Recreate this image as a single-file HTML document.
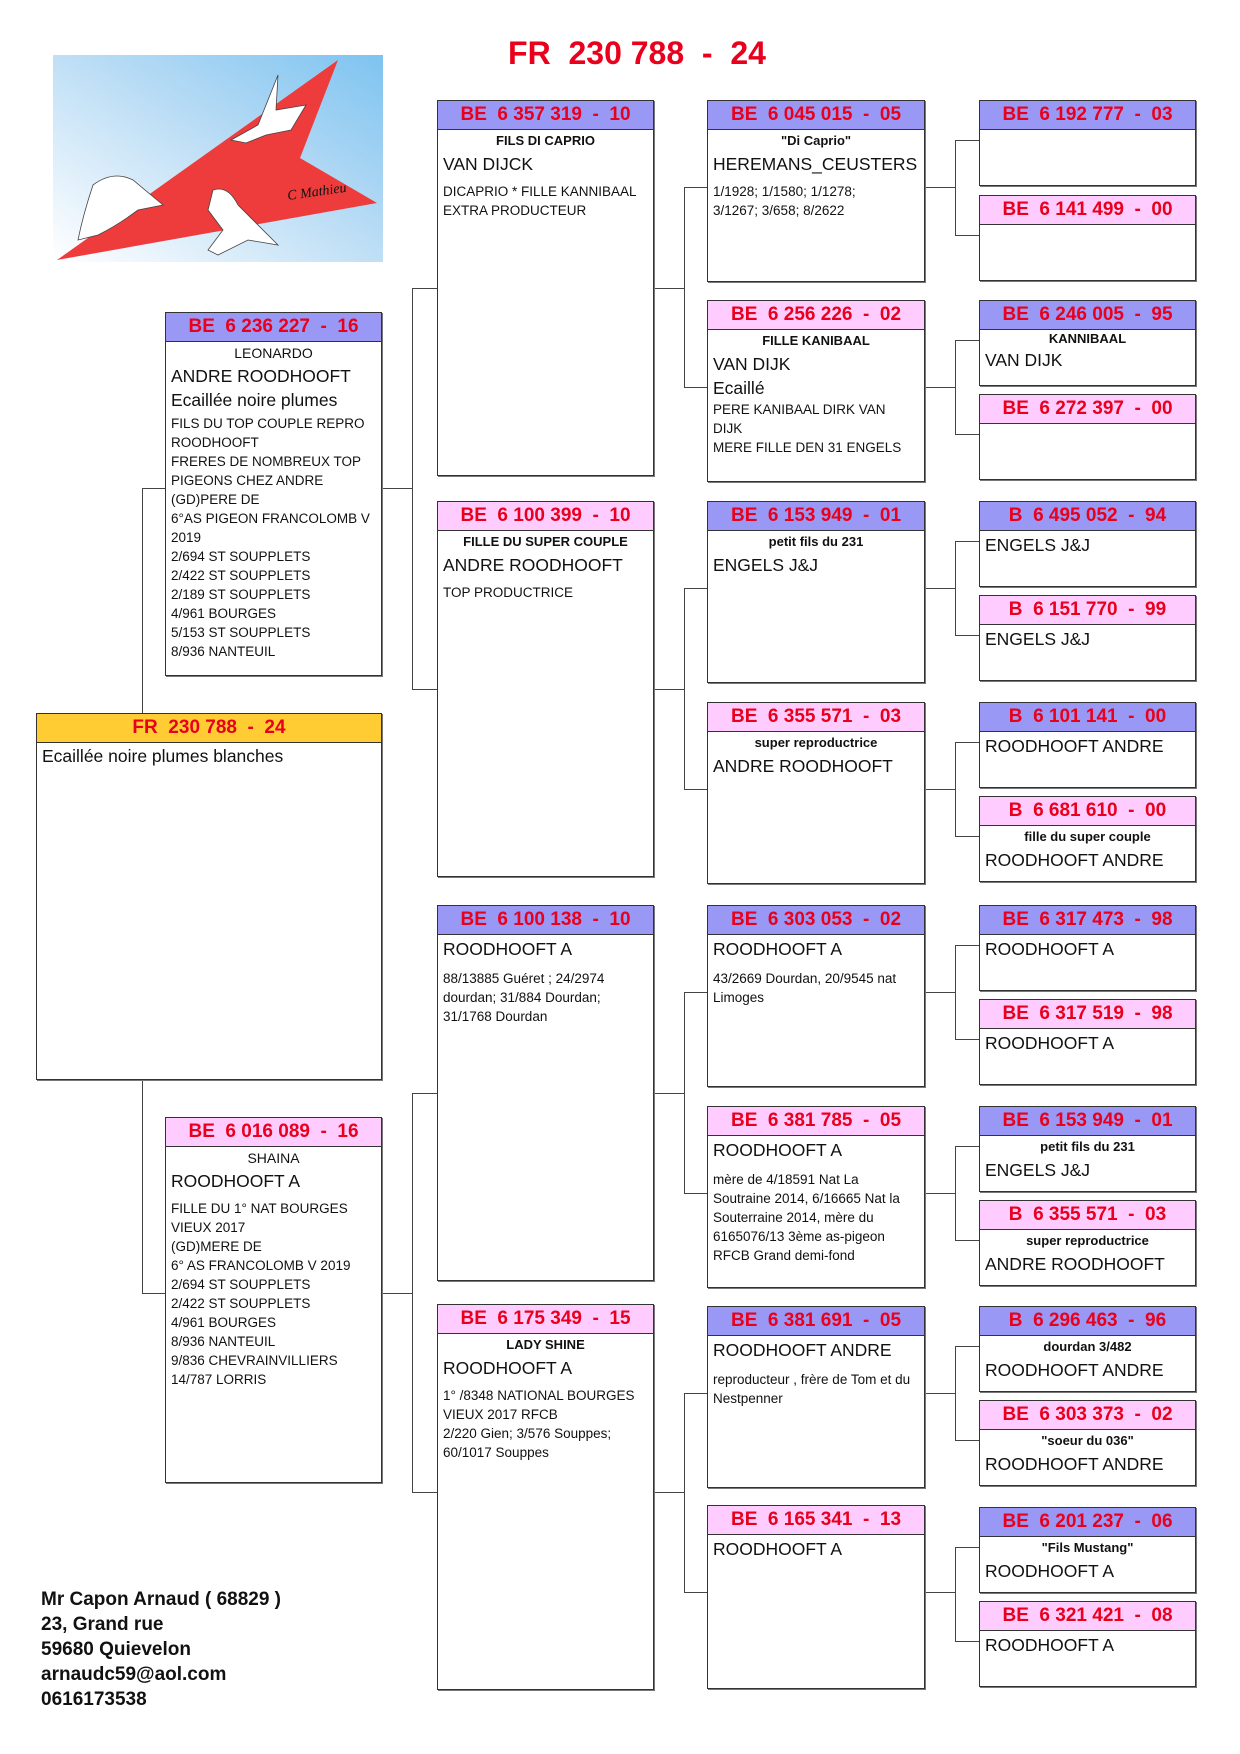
<!DOCTYPE html>
<html><head><meta charset="utf-8">
<style>
body{margin:0;background:#fff;}
#pg{position:relative;width:1240px;height:1754px;overflow:hidden;font-family:"Liberation Sans",Arial,sans-serif;color:#111;}
.b{position:absolute;border:1px solid #333;box-shadow:1px 1px 0 #777;background:#fff;box-sizing:border-box;}
.h{height:28px;border-bottom:1px solid #333;color:#e8001c;font-weight:bold;font-size:19px;line-height:28px;text-align:center;white-space:pre;}
.m{background:#9999f5;}
.f{background:#ffccff;}
.y{background:#ffcc33;}
.bd{padding:0 5px;}
.c{font-weight:bold;font-size:13px;line-height:22px;text-align:center;}
.n{font-size:17.5px;line-height:24px;white-space:nowrap;}
.s{font-size:13.5px;line-height:19px;}
.sp{height:6px;}
.l{position:absolute;background:#444;}
.t{position:absolute;font-weight:bold;}
</style></head><body><div id="pg">

<svg style="position:absolute;left:53px;top:55px" width="330" height="207" viewBox="0 0 330 207">
<defs><linearGradient id="g" x1="0" y1="1" x2="1" y2="0"><stop offset="0" stop-color="#ffffff"/><stop offset="0.55" stop-color="#b9dcf5"/><stop offset="1" stop-color="#7ec3f0"/></linearGradient></defs>
<rect width="330" height="207" fill="url(#g)"/>
<polygon points="4,205 285,5 247,103 324,148" fill="#ee3b3b"/>
<g fill="#fff" stroke="#444" stroke-width="0.8">
<path d="M205 70 l20 -50 l-2 35 l30 -5 l-15 25 l-25 5 l-20 8 l-15 -3 z"/>
<path d="M40 130 q20 -15 40 -5 l30 25 l-25 5 q-20 15 -40 25 l-20 5 q5 -25 15 -55 z"/>
<path d="M160 135 q15 -5 25 15 l40 40 l-30 -5 l-30 15 l-10 -5 l15 -20 l-15 -20 z"/>
</g>
<text x="235" y="145" font-size="14" font-style="italic" fill="#111" font-family="Liberation Serif,serif" transform="rotate(-8 235 145)">C Mathieu</text>
</svg>

<div class="t" style="left:432px;top:35px;width:410px;text-align:center;color:#e8001c;font-size:32px;white-space:pre">FR  230 788  -  24</div>

<!-- connectors -->
<div class="l" style="left:142px;top:488px;width:23px;height:1px"></div>
<div class="l" style="left:142px;top:488px;width:1px;height:225px"></div>
<div class="l" style="left:142px;top:1080px;width:1px;height:214px"></div>
<div class="l" style="left:142px;top:1293px;width:23px;height:1px"></div>

<div class="l" style="left:382px;top:488px;width:30px;height:1px"></div>
<div class="l" style="left:412px;top:288px;width:1px;height:402px"></div>
<div class="l" style="left:412px;top:288px;width:25px;height:1px"></div>
<div class="l" style="left:412px;top:689px;width:25px;height:1px"></div>
<div class="l" style="left:382px;top:1293px;width:30px;height:1px"></div>
<div class="l" style="left:412px;top:1093px;width:1px;height:400px"></div>
<div class="l" style="left:412px;top:1093px;width:25px;height:1px"></div>
<div class="l" style="left:412px;top:1492px;width:25px;height:1px"></div>

<!-- col2->col3 -->
<div class="l" style="left:654px;top:288px;width:30px;height:1px"></div>
<div class="l" style="left:684px;top:187px;width:1px;height:201px"></div>
<div class="l" style="left:684px;top:187px;width:23px;height:1px"></div>
<div class="l" style="left:684px;top:387px;width:23px;height:1px"></div>
<div class="l" style="left:654px;top:689px;width:30px;height:1px"></div>
<div class="l" style="left:684px;top:588px;width:1px;height:202px"></div>
<div class="l" style="left:684px;top:588px;width:23px;height:1px"></div>
<div class="l" style="left:684px;top:789px;width:23px;height:1px"></div>
<div class="l" style="left:654px;top:1093px;width:30px;height:1px"></div>
<div class="l" style="left:684px;top:992px;width:1px;height:202px"></div>
<div class="l" style="left:684px;top:992px;width:23px;height:1px"></div>
<div class="l" style="left:684px;top:1193px;width:23px;height:1px"></div>
<div class="l" style="left:654px;top:1492px;width:30px;height:1px"></div>
<div class="l" style="left:684px;top:1393px;width:1px;height:200px"></div>
<div class="l" style="left:684px;top:1393px;width:23px;height:1px"></div>
<div class="l" style="left:684px;top:1592px;width:23px;height:1px"></div>

<!-- col3->col4 -->
<div class="l" style="left:925px;top:187px;width:30px;height:1px"></div>
<div class="l" style="left:955px;top:140px;width:1px;height:96px"></div>
<div class="l" style="left:955px;top:140px;width:24px;height:1px"></div>
<div class="l" style="left:955px;top:235px;width:24px;height:1px"></div>
<div class="l" style="left:925px;top:387px;width:30px;height:1px"></div>
<div class="l" style="left:955px;top:340px;width:1px;height:95px"></div>
<div class="l" style="left:955px;top:340px;width:24px;height:1px"></div>
<div class="l" style="left:955px;top:434px;width:24px;height:1px"></div>
<div class="l" style="left:925px;top:588px;width:30px;height:1px"></div>
<div class="l" style="left:955px;top:541px;width:1px;height:95px"></div>
<div class="l" style="left:955px;top:541px;width:24px;height:1px"></div>
<div class="l" style="left:955px;top:635px;width:24px;height:1px"></div>
<div class="l" style="left:925px;top:789px;width:30px;height:1px"></div>
<div class="l" style="left:955px;top:742px;width:1px;height:95px"></div>
<div class="l" style="left:955px;top:742px;width:24px;height:1px"></div>
<div class="l" style="left:955px;top:836px;width:24px;height:1px"></div>
<div class="l" style="left:925px;top:992px;width:30px;height:1px"></div>
<div class="l" style="left:955px;top:945px;width:1px;height:95px"></div>
<div class="l" style="left:955px;top:945px;width:24px;height:1px"></div>
<div class="l" style="left:955px;top:1039px;width:24px;height:1px"></div>
<div class="l" style="left:925px;top:1193px;width:30px;height:1px"></div>
<div class="l" style="left:955px;top:1146px;width:1px;height:95px"></div>
<div class="l" style="left:955px;top:1146px;width:24px;height:1px"></div>
<div class="l" style="left:955px;top:1240px;width:24px;height:1px"></div>
<div class="l" style="left:925px;top:1393px;width:30px;height:1px"></div>
<div class="l" style="left:955px;top:1346px;width:1px;height:95px"></div>
<div class="l" style="left:955px;top:1346px;width:24px;height:1px"></div>
<div class="l" style="left:955px;top:1440px;width:24px;height:1px"></div>
<div class="l" style="left:925px;top:1592px;width:30px;height:1px"></div>
<div class="l" style="left:955px;top:1547px;width:1px;height:95px"></div>
<div class="l" style="left:955px;top:1547px;width:24px;height:1px"></div>
<div class="l" style="left:955px;top:1641px;width:24px;height:1px"></div>

<!-- subject -->
<div class="b" style="left:36px;top:713px;width:346px;height:367px"><div class="h y">FR  230 788  -  24</div><div class="bd"><div class="n" style="line-height:26px">Ecaillée noire plumes blanches</div></div></div>

<!-- col1 -->
<div class="b" style="left:165px;top:312px;width:217px;height:364px"><div class="h m">BE  6 236 227  -  16</div><div class="bd"><div class="c" style="font-weight:normal;font-size:14px">LEONARDO</div><div class="n">ANDRE ROODHOOFT</div><div class="n">Ecaillée noire plumes</div><div class="s" style="margin-top:2px">FILS DU TOP COUPLE REPRO ROODHOOFT<br>FRERES DE NOMBREUX TOP PIGEONS CHEZ ANDRE<br>(GD)PERE DE<br>6°AS PIGEON FRANCOLOMB V 2019<br>2/694 ST SOUPPLETS<br>2/422 ST SOUPPLETS<br>2/189 ST SOUPPLETS<br>4/961 BOURGES<br>5/153 ST SOUPPLETS<br>8/936 NANTEUIL</div></div></div>
<div class="b" style="left:165px;top:1117px;width:217px;height:366px"><div class="h f">BE  6 016 089  -  16</div><div class="bd"><div class="c" style="font-weight:normal;font-size:14px">SHAINA</div><div class="n">ROODHOOFT A</div><div class="sp"></div><div class="s">FILLE DU 1° NAT BOURGES VIEUX 2017<br>(GD)MERE DE<br>6° AS FRANCOLOMB V 2019<br>2/694 ST SOUPPLETS<br>2/422 ST SOUPPLETS<br>4/961 BOURGES<br>8/936 NANTEUIL<br>9/836 CHEVRAINVILLIERS<br>14/787 LORRIS</div></div></div>

<!-- col2 -->
<div class="b" style="left:437px;top:100px;width:217px;height:376px"><div class="h m">BE  6 357 319  -  10</div><div class="bd"><div class="c">FILS DI CAPRIO</div><div class="n">VAN DIJCK</div><div class="sp"></div><div class="s">DICAPRIO * FILLE KANNIBAAL EXTRA PRODUCTEUR</div></div></div>
<div class="b" style="left:437px;top:501px;width:217px;height:376px"><div class="h f">BE  6 100 399  -  10</div><div class="bd"><div class="c">FILLE DU SUPER COUPLE</div><div class="n">ANDRE ROODHOOFT</div><div class="sp"></div><div class="s">TOP PRODUCTRICE</div></div></div>
<div class="b" style="left:437px;top:905px;width:217px;height:376px"><div class="h m">BE  6 100 138  -  10</div><div class="bd"><div class="n" style="line-height:28px">ROODHOOFT A</div><div class="sp"></div><div class="s">88/13885 Guéret ; 24/2974 dourdan; 31/884 Dourdan; 31/1768 Dourdan</div></div></div>
<div class="b" style="left:437px;top:1304px;width:217px;height:386px"><div class="h f">BE  6 175 349  -  15</div><div class="bd"><div class="c">LADY SHINE</div><div class="n">ROODHOOFT A</div><div class="sp"></div><div class="s">1° /8348 NATIONAL BOURGES VIEUX 2017 RFCB<br>2/220 Gien; 3/576 Souppes; 60/1017 Souppes</div></div></div>

<!-- col3 -->
<div class="b" style="left:707px;top:100px;width:218px;height:182px"><div class="h m">BE  6 045 015  -  05</div><div class="bd"><div class="c">"Di Caprio"</div><div class="n">HEREMANS_CEUSTERS</div><div class="sp"></div><div class="s">1/1928; 1/1580; 1/1278;<br>3/1267; 3/658; 8/2622</div></div></div>
<div class="b" style="left:707px;top:300px;width:218px;height:182px"><div class="h f">BE  6 256 226  -  02</div><div class="bd"><div class="c">FILLE KANIBAAL</div><div class="n">VAN DIJK</div><div class="n">Ecaillé</div><div class="s">PERE KANIBAAL DIRK VAN<br>DIJK<br>MERE FILLE DEN 31 ENGELS</div></div></div>
<div class="b" style="left:707px;top:501px;width:218px;height:182px"><div class="h m">BE  6 153 949  -  01</div><div class="bd"><div class="c">petit fils du 231</div><div class="n">ENGELS J&amp;J</div></div></div>
<div class="b" style="left:707px;top:702px;width:218px;height:182px"><div class="h f">BE  6 355 571  -  03</div><div class="bd"><div class="c">super reproductrice</div><div class="n">ANDRE ROODHOOFT</div></div></div>
<div class="b" style="left:707px;top:905px;width:218px;height:182px"><div class="h m">BE  6 303 053  -  02</div><div class="bd"><div class="n" style="line-height:28px">ROODHOOFT A</div><div class="sp"></div><div class="s">43/2669 Dourdan, 20/9545 nat Limoges</div></div></div>
<div class="b" style="left:707px;top:1106px;width:218px;height:182px"><div class="h f">BE  6 381 785  -  05</div><div class="bd"><div class="n" style="line-height:28px">ROODHOOFT A</div><div class="sp"></div><div class="s">mère de 4/18591 Nat La<br>Soutraine 2014, 6/16665 Nat la Souterraine 2014, mère du 6165076/13 3ème as-pigeon RFCB Grand demi-fond</div></div></div>
<div class="b" style="left:707px;top:1306px;width:218px;height:182px"><div class="h m">BE  6 381 691  -  05</div><div class="bd"><div class="n" style="line-height:28px">ROODHOOFT ANDRE</div><div class="sp"></div><div class="s">reproducteur , frère de Tom et du Nestpenner</div></div></div>
<div class="b" style="left:707px;top:1505px;width:218px;height:184px"><div class="h f">BE  6 165 341  -  13</div><div class="bd"><div class="n" style="line-height:28px">ROODHOOFT A</div></div></div>

<!-- col4 -->
<div class="b" style="left:979px;top:100px;width:217px;height:86px"><div class="h m">BE  6 192 777  -  03</div></div>
<div class="b" style="left:979px;top:195px;width:217px;height:86px"><div class="h f">BE  6 141 499  -  00</div></div>
<div class="b" style="left:979px;top:300px;width:217px;height:86px"><div class="h m">BE  6 246 005  -  95</div><div class="bd"><div class="c" style="line-height:18px">KANNIBAAL</div><div class="n">VAN DIJK</div></div></div>
<div class="b" style="left:979px;top:394px;width:217px;height:86px"><div class="h f">BE  6 272 397  -  00</div></div>
<div class="b" style="left:979px;top:501px;width:217px;height:86px"><div class="h m">B  6 495 052  -  94</div><div class="bd"><div class="n" style="line-height:28px">ENGELS J&amp;J</div></div></div>
<div class="b" style="left:979px;top:595px;width:217px;height:86px"><div class="h f">B  6 151 770  -  99</div><div class="bd"><div class="n" style="line-height:28px">ENGELS J&amp;J</div></div></div>
<div class="b" style="left:979px;top:702px;width:217px;height:86px"><div class="h m">B  6 101 141  -  00</div><div class="bd"><div class="n" style="line-height:28px">ROODHOOFT ANDRE</div></div></div>
<div class="b" style="left:979px;top:796px;width:217px;height:86px"><div class="h f">B  6 681 610  -  00</div><div class="bd"><div class="c">fille du super couple</div><div class="n">ROODHOOFT ANDRE</div></div></div>
<div class="b" style="left:979px;top:905px;width:217px;height:86px"><div class="h m">BE  6 317 473  -  98</div><div class="bd"><div class="n" style="line-height:28px">ROODHOOFT A</div></div></div>
<div class="b" style="left:979px;top:999px;width:217px;height:86px"><div class="h f">BE  6 317 519  -  98</div><div class="bd"><div class="n" style="line-height:28px">ROODHOOFT A</div></div></div>
<div class="b" style="left:979px;top:1106px;width:217px;height:86px"><div class="h m">BE  6 153 949  -  01</div><div class="bd"><div class="c">petit fils du 231</div><div class="n">ENGELS J&amp;J</div></div></div>
<div class="b" style="left:979px;top:1200px;width:217px;height:86px"><div class="h f">B  6 355 571  -  03</div><div class="bd"><div class="c">super reproductrice</div><div class="n">ANDRE ROODHOOFT</div></div></div>
<div class="b" style="left:979px;top:1306px;width:217px;height:86px"><div class="h m">B  6 296 463  -  96</div><div class="bd"><div class="c">dourdan 3/482</div><div class="n">ROODHOOFT ANDRE</div></div></div>
<div class="b" style="left:979px;top:1400px;width:217px;height:86px"><div class="h f">BE  6 303 373  -  02</div><div class="bd"><div class="c">"soeur du 036"</div><div class="n">ROODHOOFT ANDRE</div></div></div>
<div class="b" style="left:979px;top:1507px;width:217px;height:86px"><div class="h m">BE  6 201 237  -  06</div><div class="bd"><div class="c">"Fils Mustang"</div><div class="n">ROODHOOFT A</div></div></div>
<div class="b" style="left:979px;top:1601px;width:217px;height:86px"><div class="h f">BE  6 321 421  -  08</div><div class="bd"><div class="n" style="line-height:28px">ROODHOOFT A</div></div></div>

<div class="t" style="left:41px;top:1587px;font-size:19px;line-height:25px">Mr Capon Arnaud ( 68829 )<br>23, Grand rue<br>59680 Quievelon<br>arnaudc59@aol.com<br>0616173538</div>

</div></body></html>
